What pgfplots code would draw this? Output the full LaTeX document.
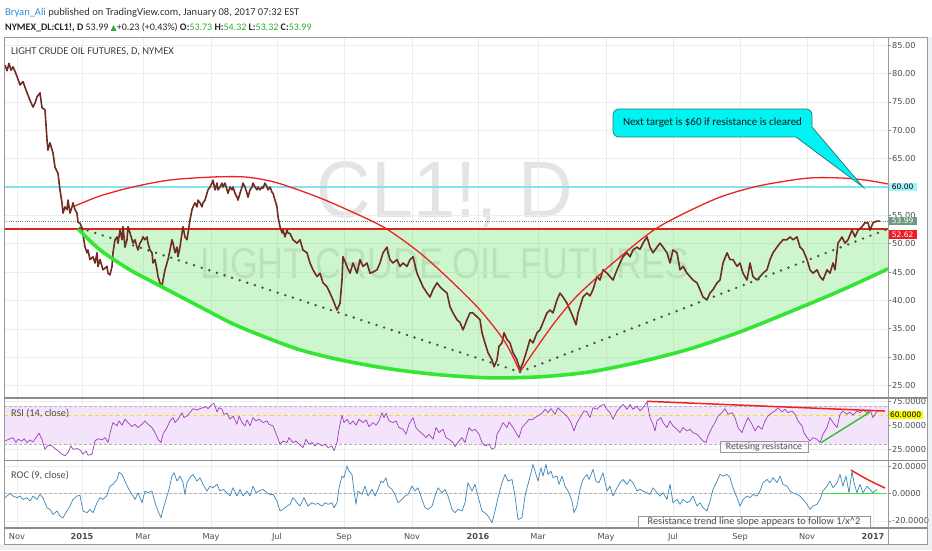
\documentclass[border=0pt]{standalone}
\usepackage{fontspec}
\setmainfont{Carlito}
\newfontfamily\dejavu{DejaVu Sans}
\newfontfamily\libsans{Liberation Sans}
\usepackage{graphicx}
\usepackage{pgfplots}
\pgfplotsset{compat=1.18}
\usepackage{pgfplotstable}

\definecolor{gridc}{HTML}{EDEDED}
\definecolor{framec}{HTML}{9A9A9A}
\definecolor{sepc}{HTML}{8C8C8C}
\definecolor{labc}{HTML}{4D4D4D}
\definecolor{tickc}{HTML}{888888}
\definecolor{cyanl}{HTML}{86E3EE}
\definecolor{lastp}{HTML}{5F8F6F}
\definecolor{resred}{HTML}{D8281E}
\definecolor{arcred}{HTML}{EE2222}
\definecolor{bowlg}{HTML}{33E633}
\definecolor{fillg}{HTML}{33DD33}
\definecolor{dotc}{HTML}{3D5A42}
\definecolor{pricec}{HTML}{702B23}
\definecolor{rsic}{HTML}{9C3FB8}
\definecolor{rsiband}{HTML}{F4E4FB}
\definecolor{yel}{HTML}{F2E600}
\definecolor{rocc}{HTML}{3C86B8}
\definecolor{calloutf}{HTML}{00F2F2}
\definecolor{calloutd}{HTML}{2D7F7F}
\definecolor{wmc}{HTML}{E4E4E4}
\definecolor{namec}{HTML}{2F8FD8}
\definecolor{upg}{HTML}{2EAA2E}
\definecolor{bgc}{HTML}{EEF1F4}
\definecolor{box60}{HTML}{A6F2FB}
\definecolor{box53}{HTML}{6E9A80}
\definecolor{box52}{HTML}{EE1C24}
\definecolor{yelbox}{HTML}{F7F700}

\newcommand\ticklabelfont{\dejavu\fontsize{8.2}{9}\selectfont}

\pgfplotstableread{
x p
5 81.5
7 80.5
9 81.8
11 80.6
13 81.2
15 80.4
17 79.5
20 78.0
23 78.6
25 77.6
28 76.2
30 75.3
33 74.1
35 74.8
37 75.9
40 76.6
42 74.0
45 73.6
47 68.3
48 66.5
50 67.8
53 66.0
55 63.5
58 62.4
60 59.5
62 57.2
63 55.4
65 56.5
67 56.0
68 57.7
70 55.4
72 56.5
73 57.2
75 56.0
77 55.4
78 53.8
80 53.6
82 52.8
85 49.4
87 48.4
88 48.9
90 47.2
93 47.7
95 46.6
97 48.4
98 46.0
100 47.2
102 46.0
103 45.4
107 46.0
108 44.8
110 44.5
112 46.0
113 48.4
115 50.7
117 51.2
118 50.1
120 52.4
122 50.7
123 53.0
125 49.4
127 50.7
128 53.0
130 51.9
132 50.7
133 50.1
135 50.7
137 49.4
138 48.9
140 50.1
142 50.7
143 51.2
145 50.7
147 51.2
148 50.1
150 48.9
152 48.4
153 46.6
155 47.2
157 45.4
158 44.2
160 43.1
162 42.4
163 43.6
165 45.4
167 46.6
168 47.2
170 48.9
172 50.7
173 50.1
175 48.4
177 49.4
178 47.7
180 49.4
182 51.9
183 53.0
185 51.2
187 50.7
188 51.9
190 54.2
192 56.0
193 56.5
195 57.2
197 56.5
198 57.7
200 57.2
202 56.5
203 57.2
205 57.7
207 58.9
208 59.5
210 60.0
212 60.7
213 61.2
215 59.5
217 60.7
218 59.5
220 60.0
222 60.7
223 60.0
225 60.7
227 59.5
228 58.9
230 60.0
232 59.5
233 60.0
235 58.9
237 58.2
238 57.7
240 58.9
242 60.0
243 60.7
245 60.0
247 58.9
248 58.2
250 59.5
252 60.0
253 60.7
255 60.0
257 59.5
258 60.0
260 59.5
262 60.0
263 59.8
265 60.7
267 60.0
268 59.5
270 60.0
272 59.1
273 58.9
275 57.7
277 56.5
278 54.8
280 53.0
282 51.9
283 52.4
285 51.2
287 52.4
288 51.9
290 51.8
293 50.7
297 50.1
300 50.7
303 48.9
307 48.4
310 46.6
313 45.4
317 44.2
320 44.8
323 43.1
327 42.4
330 41.3
333 40.1
337 38.3
340 39.5
342 43.6
343 47.7
347 46.0
350 44.8
353 46.6
357 44.8
360 47.2
363 46.0
367 46.6
370 44.8
373 45.0
377 45.4
380 46.6
383 48.4
387 49.4
388 48.4
390 47.2
393 46.6
397 47.2
400 46.0
403 46.6
407 46.0
410 47.2
413 47.7
417 44.8
420 43.6
423 42.4
427 41.3
430 40.6
433 41.9
437 43.1
440 42.4
443 41.9
447 41.3
450 38.9
453 37.8
457 36.6
460 36.1
463 34.8
467 36.6
470 37.8
473 37.8
477 37.1
480 36.6
482 34.3
485 32.5
488 30.8
492 29.5
494 28.3
497 29.5
499 31.9
502 32.5
504 34.3
507 33.1
510 32.5
513 30.8
517 29.5
520 27.8
523 29.0
527 31.3
530 33.1
533 32.5
537 34.3
540 34.8
543 36.1
547 37.8
550 38.3
553 37.8
557 40.1
560 41.3
563 40.6
567 39.5
570 38.3
573 37.1
576 35.7
578 37.8
580 38.9
583 40.6
587 41.3
590 40.8
593 41.9
597 44.2
600 43.6
603 45.4
607 44.8
610 44.2
613 43.6
617 45.4
620 46.6
623 47.7
627 48.4
630 47.7
633 48.9
637 49.4
640 49.0
643 50.1
647 51.2
650 49.4
653 48.4
657 49.4
660 50.1
663 49.4
667 48.4
670 46.6
673 48.9
677 48.4
680 45.4
683 46.0
687 44.8
690 44.2
693 43.6
697 43.1
700 41.9
703 40.6
707 40.1
710 41.3
713 41.9
717 43.1
720 43.6
723 46.6
727 48.4
730 47.2
733 47.2
737 46.0
740 46.6
743 44.8
747 43.6
750 46.6
753 44.2
757 43.6
760 44.2
763 44.8
767 45.4
770 47.2
773 48.4
777 49.4
780 50.1
783 50.7
787 50.7
790 51.2
793 50.7
797 51.2
800 49.4
803 48.9
807 47.2
810 45.4
813 44.8
817 45.4
820 44.2
823 43.6
827 45.4
830 44.8
833 46.6
835 45.4
838 50.1
842 51.2
845 50.1
848 50.7
852 52.4
855 51.2
858 52.4
862 53.0
865 53.7
868 53.7
870 52.4
873 53.7
877 54.0
880 53.99
}\price

\pgfplotstableread{
x r
5 33.6
10 36.0
13 37.1
16 32.0
18 35.4
22 33.6
24 36.0
27 32.0
30 34.7
33 32.6
36 37.1
39 41.6
42 35.4
45 25.0
48 29.2
52 28.5
55 25.8
58 23.4
62 19.9
65 18.2
68 21.6
71 28.5
73 25.0
77 25.8
80 24.4
83 19.9
86 23.4
88 18.9
92 19.9
95 33.6
98 36.0
102 34.7
105 37.1
108 32.0
111 45.8
113 52.7
117 49.2
119 54.4
122 49.9
125 56.1
128 52.7
132 48.5
135 50.9
138 47.5
142 50.9
145 54.4
148 50.9
152 47.5
155 42.3
158 35.4
161 32.0
163 40.6
167 47.5
170 54.4
173 57.8
175 52.7
178 56.1
182 63.0
184 57.8
187 59.5
190 63.0
193 67.1
197 65.7
200 67.1
203 68.1
206 69.2
208 67.1
212 71.6
214 72.6
217 63.7
219 68.1
222 66.4
224 61.2
227 62.3
230 56.1
233 59.5
237 50.9
239 59.5
242 52.7
245 49.2
247 55.4
250 49.2
253 57.8
256 54.4
259 56.1
263 52.7
267 54.4
269 50.9
273 49.2
275 44.0
277 38.9
280 30.3
283 33.6
287 32.0
289 37.1
293 32.0
296 33.6
299 30.3
303 26.8
306 35.4
309 30.3
312 32.0
315 28.5
318 31.3
322 28.5
325 30.3
328 26.8
332 28.5
334 23.4
337 32.0
339 45.8
342 60.3
344 52.7
347 56.1
350 50.9
353 54.4
356 49.9
359 56.1
363 52.7
366 55.4
369 48.5
373 52.7
376 49.9
379 54.4
382 63.0
384 57.8
386 62.3
389 54.4
393 52.7
396 54.4
399 47.5
403 45.8
406 40.6
409 50.9
413 57.8
416 47.5
419 44.0
423 40.6
426 37.1
429 40.6
433 35.4
436 47.5
439 42.3
443 45.8
446 37.1
449 35.4
453 32.0
455 27.8
459 33.6
462 37.1
465 32.0
469 47.5
472 44.0
475 45.8
479 40.6
482 32.0
485 28.5
489 30.3
492 25.0
495 26.8
497 40.6
500 45.8
503 52.7
507 47.5
509 53.4
513 47.5
516 42.3
519 37.1
522 47.5
525 50.9
529 56.1
532 55.4
535 57.8
539 60.3
542 62.3
545 66.4
548 63.0
551 67.1
555 61.2
558 68.1
561 64.7
565 61.2
568 57.8
571 52.7
574 44.0
577 52.7
581 59.5
584 64.7
587 63.7
590 57.8
593 68.1
597 66.4
600 69.8
604 71.5
607 66.0
610 63.0
613 56.1
617 64.7
620 68.1
623 71.5
627 66.4
630 71.5
633 66.4
637 69.8
640 64.7
643 68.1
647 74.0
650 57.8
653 50.9
655 44.0
657 54.4
661 57.8
663 52.7
667 47.5
670 54.4
673 49.2
677 45.8
680 42.3
683 47.5
687 44.0
690 45.8
693 42.3
697 40.6
700 37.1
703 33.6
706 32.0
708 38.9
712 47.5
715 52.7
718 59.5
722 63.0
725 67.1
728 61.2
732 63.0
735 57.8
738 47.5
742 42.3
745 50.9
748 57.8
752 50.9
755 44.0
758 49.2
762 45.8
765 54.4
768 59.5
772 63.0
775 64.7
778 68.1
782 63.7
785 66.4
788 63.0
792 64.7
795 61.2
798 54.4
802 49.2
804 42.3
807 37.1
810 33.6
813 37.1
817 35.4
820 32.0
823 40.6
827 47.5
830 57.8
833 52.7
837 47.5
840 61.2
843 64.7
847 61.2
850 63.7
853 60.3
857 64.7
860 63.0
863 65.7
867 63.0
870 65.7
873 57.8
876 63.0
878 64.7
}\rsi

\pgfplotstableread{
x r
5 -2.9
10 0.2
13 -1.7
17 -2.9
20 -1.7
23 -4.2
27 -2.9
30 -5.4
33 -1.7
37 -4.2
40 -0.5
43 -2.9
47 -10.3
50 -11.5
53 -15.2
57 -12.7
60 -16.4
63 -17.7
67 -12.7
70 -9.1
73 -4.2
77 -1.7
80 -1.2
83 -12.7
87 -14.0
90 -11.5
93 -14.0
97 -6.6
100 -2.9
103 -4.2
107 -1.2
110 5.6
113 6.9
117 10.5
119 15.9
122 14.2
125 9.3
128 4.4
132 -0.5
135 -4.2
138 0.7
142 -6.6
145 2.0
148 0.7
152 2.0
155 -6.6
158 -12.7
161 -17.7
163 -11.5
167 -1.7
169 3.2
172 13.0
174 15.4
177 9.3
180 13.0
183 8.1
185 -0.5
187 8.1
191 13.0
193 14.2
197 9.3
200 11.8
203 6.9
207 2.0
210 5.6
213 4.4
217 6.9
220 2.0
223 3.2
227 0.7
230 -1.7
233 4.4
237 -1.7
240 3.2
243 -1.7
247 2.0
250 -1.7
253 5.6
256 0.7
259 2.0
263 3.2
267 0.7
270 -0.5
273 -0.5
277 -5.4
280 -12.7
283 -11.5
287 -9.1
290 -7.8
293 -2.9
297 -6.6
300 -9.1
304 -2.9
308 -9.1
312 -6.6
315 -7.8
318 -7.1
322 -9.1
325 -6.6
328 -7.8
332 -6.6
334 -10.3
337 -6.6
339 4.4
342 13.0
344 11.8
347 20.3
349 16.6
352 14.2
354 2.0
356 -7.8
358 2.0
362 -0.5
365 5.6
368 -1.7
372 3.2
375 -1.7
378 3.2
381 9.3
383 8.1
386 11.8
388 5.6
392 3.2
395 -0.5
398 -6.6
402 -4.2
405 -1.7
408 -0.5
412 5.6
415 2.0
418 4.4
422 -4.2
425 -10.3
428 -11.5
432 -9.1
435 -1.7
438 4.4
442 0.7
445 3.2
448 -1.7
452 -11.5
455 -14.0
458 -11.5
462 -12.7
465 -6.6
468 8.1
472 2.0
475 6.9
478 -1.7
482 -12.7
485 -14.0
488 -16.4
492 -21.3
495 -12.7
498 -2.9
502 8.1
505 14.2
508 9.3
512 10.5
515 -1.7
518 -18.9
522 -17.7
525 -1.7
528 6.9
531 15.4
533 21.6
536 14.2
538 9.3
541 19.1
543 13.0
546 21.6
548 14.2
551 16.6
553 11.8
557 13.0
559 6.9
562 13.0
565 5.6
568 2.0
572 -5.4
574 -14.0
577 -9.1
580 3.2
583 10.5
587 14.2
589 10.5
593 17.9
596 9.3
599 8.1
603 15.4
607 2.0
610 5.6
613 -1.7
617 4.4
620 8.1
623 10.5
627 6.9
630 10.5
633 8.1
637 2.0
640 3.2
643 2.0
647 0.7
650 -0.5
653 4.4
657 0.7
660 -1.7
663 0.7
667 -4.2
670 6.9
673 -6.6
677 -4.2
680 -7.8
683 -4.2
687 -6.6
690 -5.4
693 -1.7
697 -9.1
700 -6.6
703 -10.3
707 -12.7
710 -5.4
713 3.2
717 9.3
720 14.2
723 13.0
727 14.2
730 11.8
733 4.4
737 -2.9
740 -9.1
743 -4.2
747 -1.7
750 -2.9
753 -0.5
757 -1.7
760 2.0
763 8.1
767 10.5
770 8.1
773 11.8
777 8.1
780 13.0
783 6.9
787 5.6
790 2.0
793 0.7
797 -0.5
800 -1.7
803 -4.2
807 -7.8
810 -11.5
813 -9.1
817 -7.8
820 -4.2
823 2.0
827 5.6
830 9.3
833 4.4
837 8.1
840 14.2
843 5.6
846 13.0
849 0.7
852 16.6
854 8.1
857 0.7
860 6.9
863 0.7
867 5.6
870 3.2
873 0.7
877 3.2
}\roc

\pgfplotsset{
  panel/.style={
    anchor=south west, scale only axis, width=884pt,
    xmin=4, xmax=888,
    axis line style={draw=none},
    xtick={17,82,143,211,277,344,412,478,538,606,673,740,807,873},
    xtick style={draw=none},
    ytick pos=right, yticklabel pos=right,
    tick align=outside, major tick length=3pt,
    ytick style={draw=tickc, line width=0.6pt},
    yticklabel style={font=\ticklabelfont, text=labc, anchor=west, inner sep=1pt},
    grid=major, major grid style={draw=gridc, line width=0.5pt},
  }
}

\begin{document}
\begin{tikzpicture}
\begin{scope}[x=1pt,y=1pt]
\useasboundingbox (0,0) rectangle (932,550);
\fill[white] (0,0) rectangle (932,550);
\fill[bgc] (0,0) rectangle (932,6);
\fill[bgc] (927,0) rectangle (932,513);

% header
\node[anchor=west, inner sep=0, font=\fontsize{10.5}{12}\selectfont, text=black!80] at (5,537.5)
  {{\color{namec}Bryan\_Ali} published on TradingView.com, January 08, 2017 07:32 EST};
\node[anchor=west, inner sep=0, font=\fontsize{10}{12}\selectfont, text=black!85] at (5,522.5)
  {\textbf{NYMEX\_DL:CL1!, D} 53.99 {\dejavu\fontsize{8}{9}\selectfont\color{upg}▲}+0.23 (+0.43\%) \textbf{O:}{\color{upg}53.73} \textbf{H:}{\color{upg}54.32} \textbf{L:}{\color{upg}53.32} \textbf{C:}{\color{upg}53.99}};

% watermark
\node[anchor=base, inner sep=0, text=wmc, font=\libsans\fontsize{80}{80}\selectfont] at (445,333) {\scalebox{0.945}[1]{CL1!, D}};
\node[anchor=base, inner sep=0, text=wmc, font=\libsans\fontsize{43}{43}\selectfont] at (445,272) {\scalebox{0.833}[1]{LIGHT CRUDE OIL FUTURES}};
\end{scope}

% ---------- main price panel
\begin{axis}[panel, at={(4pt,152.5pt)}, height=360.5pt,
  ymin=22.88, ymax=86.46,
  xticklabels={},
  ytick={25,30,...,85},
  yticklabels={25.00,30.00,35.00,40.00,45.00,50.00,55.00,,65.00,70.00,75.00,80.00,85.00},
]
\addplot[cyanl, line width=1.4pt] coordinates {(4,60) (888,60)};
\addplot[draw=none, fill=fillg, fill opacity=0.24] coordinates {
(78,52.62) (100,48.92) (130,45.39) (162,42.39) (200,38.87) (233,35.87) (267,33.40)
(300,31.29) (340,29.52) (390,27.93) (440,26.88) (490,26.35) (540,26.53) (590,27.40)
(640,29.17) (690,31.46) (740,34.46) (790,37.99) (840,41.69) (888,45.57) (888,52.62)};
\addplot[lastp, line width=0.6pt, dash pattern=on 1pt off 1.3pt] coordinates {(4,53.99) (888,53.99)};
\addplot[resred, line width=2.2pt] coordinates {(4,52.62) (888,52.62)};
\addplot[pricec, line width=1.6pt, line join=round] table[x=x,y=p] {\price};
\addplot[arcred, line width=1.3pt, smooth, tension=0.5] coordinates {
(75,56.66) (100,58.42) (133,60.01) (170,61.24) (213,61.77) (245,61.77) (270,61.07)
(290,60.01) (320,58.07) (350,55.78) (385,52.78) (420,48.37) (450,43.61) (480,38.32)
(505,32.67) (520,27.38)};
\addplot[arcred, line width=1.3pt, smooth, tension=0.5] coordinates {
(520,27.38) (535,31.26) (555,36.2) (575,40.43) (593,43.43) (613,46.61) (657,52.78)
(713,57.72) (750,59.83) (780,60.89) (810,61.6) (840,61.6) (865,61.24) (888,60.54)};
\addplot[bowlg, line width=3.6pt, smooth, tension=0.5] coordinates {
(78,52.62) (100,48.92) (130,45.39) (162,42.39) (200,38.87) (233,35.87) (267,33.40)
(300,31.29) (340,29.52) (390,27.93) (440,26.88) (490,26.35) (540,26.53) (590,27.40)
(640,29.17) (690,31.46) (740,34.46) (790,37.99) (840,41.69) (888,45.57)};
\addplot[dotc, line width=2.7pt, line cap=round, dash pattern=on 0pt off 8pt] coordinates {(80,52.78) (520,27.38)};
\addplot[dotc, line width=2.7pt, line cap=round, dash pattern=on 0pt off 8pt] coordinates {(520,27.38) (888,52.62)};
\end{axis}

% ---------- RSI panel
\begin{axis}[panel, at={(4pt,89.7pt)}, height=61.6pt,
  ymin=13.6, ymax=77.4,
  xticklabels={},
  ytick={25,50,75}, yticklabels={25.0000,50.0000,75.0000},
]
\addplot[draw=none, fill=rsiband] coordinates {(4,30) (888,30) (888,70) (4,70)};
\addplot[gray!60, line width=0.6pt, dash pattern=on 3pt off 2pt] coordinates {(4,70) (888,70)};
\addplot[gray!60, line width=0.6pt, dash pattern=on 3pt off 2pt] coordinates {(4,30) (888,30)};
\addplot[yel, line width=1.6pt, dash pattern=on 4pt off 3pt] coordinates {(4,60) (888,60)};
\addplot[rsic, line width=0.7pt, line join=round] table[x=x,y=r] {\rsi};
\addplot[arcred, line width=1.5pt] coordinates {(647,74.7) (885,64.6)};
\addplot[bowlg!85!black, line width=1.4pt] coordinates {(821,31.8) (870,63.6)};
\end{axis}

% ---------- ROC panel
\begin{axis}[panel, at={(4pt,22pt)}, height=67.7pt,
  ymin=-25.2, ymax=24.6,
  ytick={-20,0,20}, yticklabels={-20.0000,0.0000,20.0000},
  xticklabels={Nov,\textbf{2015},Mar,May,Jul,Sep,Nov,\textbf{2016},Mar,May,Jul,Sep,Nov,\textbf{2017}},
  xticklabel style={font=\ticklabelfont, text=labc, yshift=1pt},
]
\addplot[gray!60, line width=0.6pt, dash pattern=on 3pt off 2pt] coordinates {(4,0) (888,0)};
\addplot[rocc, line width=0.7pt, line join=round] table[x=x,y=r] {\roc};
\addplot[bowlg, line width=1.5pt] coordinates {(823,0.3) (885,0.3)};
\addplot[arcred, line width=1.5pt, smooth] coordinates {(851,17.4) (860,13.5) (868,10.3) (877,7.0) (885,4.2)};
\end{axis}

\begin{scope}[x=1pt,y=1pt]
% frames
\draw[framec, line width=0.8pt] (4,6) rectangle (927,513);
\draw[sepc, line width=1.4pt] (4,152) -- (927,152);
\draw[sepc, line width=1.4pt] (4,89.7) -- (927,89.7);
\draw[sepc, line width=1.2pt] (4,22) -- (927,22);
\draw[framec, line width=0.8pt] (888,6) -- (888,513);

% panel labels
\node[anchor=west, inner sep=0, text=black!75, font=\fontsize{10.5}{12}\selectfont] at (11,498) {LIGHT CRUDE OIL FUTURES, D, NYMEX};
\node[anchor=west, inner sep=0, text=labc, font=\fontsize{10.3}{12}\selectfont] at (11,137) {RSI (14, close)};
\node[anchor=west, inner sep=0, text=labc, font=\fontsize{10.3}{12}\selectfont] at (11,75) {ROC (9, close)};

% price value boxes
\node[fill=box60, text=black, inner sep=1.5pt, minimum width=28pt, font=\dejavu\fontsize{7.5}{8}\selectfont, anchor=west] at (888.5,363) {60.00};
\node[fill=box53, text=white, inner sep=1.5pt, minimum width=28pt, font=\dejavu\fontsize{7.5}{8}\selectfont, anchor=west] at (888.5,329) {53.99};
\node[fill=box52, text=white, inner sep=1.5pt, minimum width=28pt, font=\dejavu\fontsize{7.5}{8}\selectfont, anchor=west] at (888.5,315.5) {52.62};
\node[fill=yelbox, text=black, inner sep=1.2pt, minimum width=34pt, font=\dejavu\fontsize{7.5}{8}\selectfont, anchor=west] at (888.5,135) {60.0000};

% annotation boxes
\node[draw=gray!80, line width=0.6pt, fill=white, fill opacity=0.35, text opacity=1, text=labc, inner xsep=2pt, inner ysep=1pt, minimum width=88pt, minimum height=11pt, font=\fontsize{9.8}{10}\selectfont] at (764,103.5) {Retesing resistance};
\node[draw=gray!80, line width=0.6pt, fill=white, fill opacity=0.35, text opacity=1, text=labc, inner xsep=2pt, inner ysep=1pt, minimum width=232pt, minimum height=11pt, font=\fontsize{10.3}{11}\selectfont] at (754,28.5) {Resistance trend line slope appears to follow 1/x\textasciicircum{}2};

% callout
\draw[calloutd, fill=calloutf, line width=0.8pt, rounded corners=6pt] (613,413) rectangle (812,441);
\fill[calloutf] (796,413) -- (863,363) -- (812,423) -- (800,430) -- cycle;
\draw[calloutd, line width=0.8pt, line join=miter] (796,413) -- (863,363) -- (812,423);
\node[text=black!90, font=\fontsize{11}{13}\selectfont] at (712.5,427) {Next target is \$60 if resistance is cleared};
\end{scope}
\end{tikzpicture}
\end{document}
